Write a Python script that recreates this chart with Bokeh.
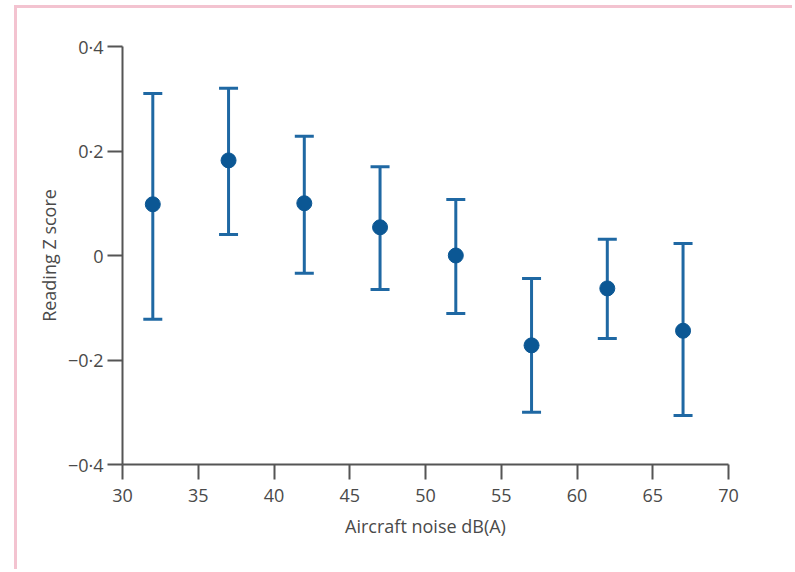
from bokeh.plotting import figure
from bokeh.models import (ColumnDataSource, Whisker, TeeHead, FixedTicker,
                          CustomJSTickFormatter)
from bokeh.embed import file_html
from bokeh.resources import INLINE

# data
noise_db = [32, 37, 42, 47, 52, 57, 62, 67]
z_mean = [0.098, 0.182, 0.100, 0.054, 0.000, -0.172, -0.063, -0.144]
z_upper = [0.310, 0.320, 0.228, 0.170, 0.107, -0.044, 0.031, 0.023]
z_lower = [-0.122, 0.040, -0.034, -0.065, -0.111, -0.300, -0.159, -0.306]
x_ticks = [30, 35, 40, 45, 50, 55, 60, 65, 70]
y_ticks = [-0.4, -0.2, 0, 0.2, 0.4]

FONT = "Open Sans"
TXT = "#4a4a4a"
AX = "#555555"
PINK = "#f3c3d0"

src = ColumnDataSource(dict(x=noise_db, m=z_mean, up=z_upper, lo=z_lower))

# canvas starts at page (17, 8) because of the CSS margin + pink border
p = figure(width=778, height=564, output_backend="svg", toolbar_location=None,
           x_range=(30, 70), y_range=(-0.4, 0.4),
           min_border_left=105, min_border_right=778 - 105 - 606,
           min_border_top=38, min_border_bottom=564 - 38 - 418)
p.styles = {"margin-left": "14px", "margin-top": "5px",
            "border-left": f"3px solid {PINK}", "border-top": f"3px solid {PINK}"}
p.outline_line_color = None
p.grid.visible = False
p.background_fill_color = "white"
p.border_fill_color = "white"

wh = Whisker(source=src, base="x", upper="up", lower="lo",
             line_color="#1f68a3", line_width=3,
             upper_head=TeeHead(size=19, line_color="#1f68a3", line_width=3),
             lower_head=TeeHead(size=19, line_color="#1f68a3", line_width=3))
p.add_layout(wh)
p.scatter("x", "m", source=src, size=15, fill_color="#0b5794",
          line_color="#0b5794")

for ax in (p.xaxis[0], p.yaxis[0]):
    ax.axis_line_color = AX
    ax.axis_line_width = 2
    ax.major_tick_line_color = AX
    ax.major_tick_line_width = 2
    ax.major_tick_out = 15
    ax.major_tick_in = 0
    ax.minor_tick_line_color = None
    ax.major_label_text_font = FONT
    ax.major_label_text_font_size = "18px"
    ax.major_label_text_color = TXT
    ax.axis_label_text_font = FONT
    ax.axis_label_text_font_size = "18px"
    ax.axis_label_text_color = TXT
    ax.axis_label_text_font_style = "normal"

p.xaxis.ticker = FixedTicker(ticks=x_ticks)
p.yaxis.ticker = FixedTicker(ticks=y_ticks)
p.yaxis.formatter = CustomJSTickFormatter(code="""
    if (Math.abs(tick) < 1e-9) return "0";
    const s = Math.abs(tick).toFixed(1).replace(".", "\u00b7");
    return (tick < 0 ? "\u2212" : "") + s;
""")
p.xaxis.axis_label = "Aircraft noise dB(A)"
p.yaxis.axis_label = "Reading Z score"
p.xaxis.major_label_standoff = 9
p.yaxis.major_label_standoff = 4
p.xaxis.axis_label_standoff = 9
p.yaxis.axis_label_standoff = 4

open("out.html", "w").write(file_html(p, INLINE))
